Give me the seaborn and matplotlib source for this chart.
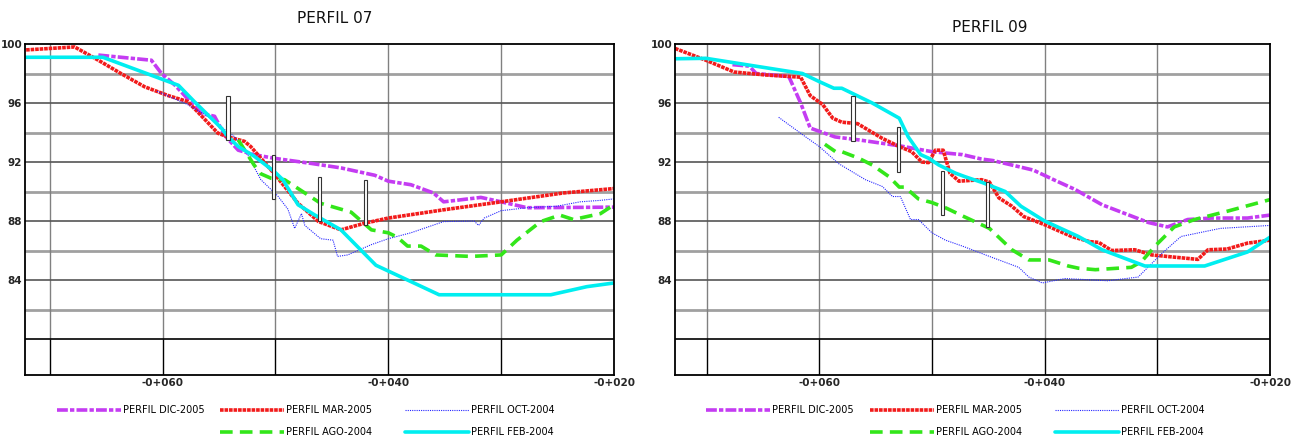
import numpy as np
import pandas as pd
import matplotlib
matplotlib.use('Agg')
import matplotlib.pyplot as plt
import seaborn as sns
from matplotlib.lines import Line2D
from matplotlib.legend import Legend

sns.set_theme(style='white')
plt.rcParams['font.family'] = ['DejaVu Sans']

# ---------------- data ----------------
# PERFIL 07
dic07_x = [-65.7, -61.0, -60.1, -58.9, -57.8, -56.6, -55.4, -54.5, -53.3, -51.9, -50.1, -46.8, -44.2, -41.2,
           -40.0, -38.0, -36.0, -35.1, -31.8, -30.0, -27.7, -20.0]
dic07_y = [99.25, 98.9, 98.0, 97.2, 96.3, 95.3, 95.1, 93.8, 92.8, 92.5, 92.25, 91.9, 91.6, 91.1,
           90.7, 90.46, 89.9, 89.3, 89.6, 89.3, 88.9, 88.94]
mar07_x = [-72.1, -67.8, -65.7, -63.7, -61.6, -59.5, -57.8, -56.9, -55.1, -54.2, -52.75, -52.2, -50.1, -48.0,
           -46.2, -44.2, -42.1, -40.0, -35.1, -30.0, -24.5, -20.0]
mar07_y = [99.6, 99.8, 98.9, 98.0, 97.1, 96.5, 96.1, 95.4, 93.95, 93.7, 93.4, 93.05, 91.2, 89.2,
           87.97, 87.4, 87.85, 88.2, 88.76, 89.3, 89.9, 90.2]
oct07_x = [-60.5, -57.8, -56.0, -54.5, -53.6, -52.4, -51.3, -49.8, -48.9, -48.3, -47.7, -47.4, -46.0, -44.9,
           -44.5, -43.6, -41.5, -40.0, -38.0, -35.1, -32.4, -32.0, -31.5, -30.0, -27.7, -25.1, -23.0, -21.2, -20.0]
oct07_y = [96.8, 95.9, 95.1, 94.2, 93.7, 92.4, 90.8, 89.7, 88.8, 87.5, 88.5, 87.7, 86.8, 86.7,
           85.6, 85.7, 86.4, 86.8, 87.2, 87.96, 88.0, 87.7, 88.2, 88.7, 88.9, 89.0, 89.3, 89.4, 89.5]
ago07_x = [-53.3, -51.9, -51.3, -50.4, -49.2, -48.0, -46.0, -45.1, -43.3, -41.5, -40.0, -39.2, -38.3, -37.1,
           -35.8, -32.7, -30.0, -28.6, -26.5, -24.8, -23.6, -21.2, -20.0]
ago07_y = [93.5, 91.8, 91.2, 90.9, 90.8, 90.2, 89.2, 89.0, 88.6, 87.4, 87.2, 86.9, 86.3, 86.3,
           85.7, 85.6, 85.7, 86.7, 87.96, 88.4, 88.1, 88.5, 89.1]
feb07_x = [-72.1, -65.3, -58.6, -57.2, -54.8, -54.2, -53.3, -51.9, -50.1, -49.35, -48.0, -46.5, -44.2, -41.1,
           -38.3, -35.5, -25.6, -22.4, -20.0]
feb07_y = [99.1, 99.1, 97.2, 96.1, 94.3, 93.7, 93.05, 92.4, 91.35, 90.8, 89.1, 88.4, 87.4, 85.0,
           84.0, 83.0, 83.0, 83.55, 83.8]
bars07_x = [-54.2, -50.2, -46.1, -42.05]
bars07_lo = [93.5, 89.5, 87.97, 87.74]
bars07_hi = [96.5, 92.5, 91.0, 90.75]

# PERFIL 09
dic09_x = [-67.7, -66.2, -65.6, -62.7, -61.65, -60.8, -58.6, -56.5, -52.9, -50.0, -47.3, -45.6, -44.6, -41.0,
           -39.2, -37.3, -34.9, -30.8, -29.1, -27.3, -25.2, -22.0, -20.0]
dic09_y = [98.6, 98.5, 98.0, 97.8, 96.0, 94.3, 93.7, 93.5, 93.1, 92.7, 92.5, 92.2, 92.1, 91.45,
           90.8, 90.14, 89.1, 87.9, 87.6, 88.1, 88.2, 88.2, 88.4]
mar09_x = [-72.8, -70.06, -67.55, -64.75, -62.7, -61.65, -60.8, -59.7, -58.8, -58.0, -56.6, -54.4, -52.9, -51.8,
           -50.9, -50.3, -49.7, -49.0, -48.4, -47.6, -45.6, -44.9, -44.06, -42.9, -41.85, -40.0, -37.6, -36.0,
           -35.2, -34.06, -32.0, -30.5, -28.5, -26.4, -25.5, -23.8, -22.0, -20.0]
mar09_y = [99.7, 98.9, 98.1, 97.9, 97.8, 97.75, 96.5, 95.9, 94.97, 94.7, 94.6, 93.6, 93.05, 92.7,
           92.0, 91.96, 92.8, 92.8, 91.24, 90.7, 90.8, 90.64, 89.57, 89.0, 88.3, 87.75, 86.95, 86.6,
           86.55, 86.0, 86.05, 85.7, 85.55, 85.4, 86.05, 86.1, 86.5, 86.7]
oct09_x = [-63.6, -61.2, -60.0, -58.3, -55.9, -54.4, -53.5, -52.8, -51.9, -51.2, -50.0, -48.8, -47.3, -44.9,
           -42.3, -41.4, -40.2, -38.2, -34.4, -31.7, -29.6, -27.9, -24.4, -20.0]
oct09_y = [95.03, 93.7, 93.05, 91.9, 90.8, 90.34, 89.66, 89.66, 88.1, 88.1, 87.2, 86.7, 86.3, 85.6,
           84.86, 84.2, 83.8, 84.1, 83.95, 84.2, 85.8, 86.95, 87.5, 87.7]
ago09_x = [-59.5, -58.55, -58.0, -56.5, -55.3, -53.8, -52.9, -52.4, -51.2, -50.0, -48.8, -47.3, -44.9, -42.9,
           -41.4, -39.6, -37.9, -37.0, -35.5, -32.3, -31.4, -30.2, -28.5, -26.7, -23.8, -20.0]
ago09_y = [93.2, 92.7, 92.7, 92.26, 91.8, 91.0, 90.3, 90.3, 89.5, 89.25, 88.9, 88.35, 87.5, 86.05,
           85.36, 85.36, 84.95, 84.8, 84.7, 84.86, 85.25, 86.3, 87.6, 88.1, 88.66, 89.45]
feb09_x = [-72.8, -70.06, -61.5, -60.0, -58.7, -58.0, -55.3, -52.9, -52.1, -51.0, -50.3, -49.4, -47.9, -47.05,
           -45.5, -43.5, -42.1, -40.0, -37.0, -34.9, -31.1, -25.8, -22.0, -20.0]
feb09_y = [99.0, 99.03, 98.0, 97.45, 97.0, 97.0, 96.0, 94.97, 93.7, 92.5, 92.26, 91.8, 91.24, 91.0,
           90.6, 90.0, 89.0, 88.0, 86.95, 86.05, 84.95, 84.95, 85.9, 86.9]
bars09_x = [-57.0, -52.95, -49.05, -45.05]
bars09_lo = [93.45, 91.3, 88.4, 87.6]
bars09_hi = [96.5, 94.36, 91.42, 90.67]

labels = ['PERFIL DIC-2005', 'PERFIL MAR-2005', 'PERFIL OCT-2004', 'PERFIL AGO-2004', 'PERFIL FEB-2004']
yticks = [100, 96, 92, 88, 84]
xticks = [-60, -40, -20]
xticklabels = ['-0+060', '-0+040', '-0+020']

styles = {
    'PERFIL DIC-2005': dict(color='#c43cf2', lw=2.6, ls=(0, (3, 0.6, 1.2, 0.6))),
    'PERFIL MAR-2005': dict(color='#f21b1b', lw=2.6, ls=(0, (1, 0.25))),
    'PERFIL OCT-2004': dict(color='#2626ff', lw=0.8, ls=(0, (1, 1))),
    'PERFIL AGO-2004': dict(color='#33e61a', lw=2.6, ls=(0, (3.5, 2))),
    'PERFIL FEB-2004': dict(color='#00eef0', lw=2.6, ls='-'),
}

panels = [
    dict(title='PERFIL 07', xmin=-72.2, title_xy=(0.526, 1.078),
         series=[(dic07_x, dic07_y), (mar07_x, mar07_y), (oct07_x, oct07_y), (ago07_x, ago07_y), (feb07_x, feb07_y)],
         bars=(bars07_x, bars07_lo, bars07_hi), rect=[25 / 1294, 63 / 438, 589 / 1294, 331 / 438],
         leg_x=[57, 220, 405]),
    dict(title='PERFIL 09', xmin=-72.8, title_xy=(0.529, 1.051),
         series=[(dic09_x, dic09_y), (mar09_x, mar09_y), (oct09_x, oct09_y), (ago09_x, ago09_y), (feb09_x, feb09_y)],
         bars=(bars09_x, bars09_lo, bars09_hi), rect=[675 / 1294, 63 / 438, 595 / 1294, 331 / 438],
         leg_x=[706, 870, 1055]),
]

ymin, ymax = 77.56, 100.0

fig = plt.figure(figsize=(12.94, 4.38), dpi=100)
fig.patch.set_facecolor('white')

for p in panels:
    ax = fig.add_axes(p['rect'])
    ax.set_facecolor('white')

    # profile grid
    for yv in [98, 94, 90, 86, 82]:
        ax.axhline(yv, color='#a0a0a0', lw=2.0, zorder=0.5)
    for yv in [96, 92, 88, 84]:
        ax.axhline(yv, color='#555555', lw=1.2, zorder=0.6)
    ax.axhline(80, color='black', lw=1.2, zorder=0.6)
    grid_x = [-70, -60, -50, -40, -30]
    ax.vlines(grid_x, 80, 100, color='#808080', lw=1.0, zorder=0.5)
    ax.vlines(grid_x, ymin, 80, color='black', lw=1.0, zorder=0.6)

    for lab, (xs, ys) in zip(labels, p['series']):
        st = styles[lab]
        df = pd.DataFrame({'x': xs, 'y': ys})
        sns.lineplot(data=df, x='x', y='y', ax=ax, sort=False, estimator=None, legend=False,
                     color=st['color'], lw=st['lw'], linestyle=st['ls'], zorder=2)

    bx, blo, bhi = p['bars']
    ax.bar(bx, np.array(bhi) - np.array(blo), bottom=blo, width=0.3,
           facecolor='white', edgecolor='#333333', lw=0.8, zorder=3)

    ax.set_xlim(p['xmin'], -20)
    ax.set_ylim(ymin, ymax)
    ax.set_xlabel('')
    ax.set_ylabel('')
    ax.set_yticks(yticks)
    ax.set_yticklabels([str(v) for v in yticks], fontsize=7.5, fontweight='bold')
    ax.set_xticks(xticks)
    ax.set_xticklabels(xticklabels, fontsize=7.5, fontweight='bold')
    ax.tick_params(length=0, pad=2)
    for s in ax.spines.values():
        s.set_visible(True)
        s.set_color('black')
        s.set_linewidth(1.3)

    ax.text(p['title_xy'][0], p['title_xy'][1], p['title'], transform=ax.transAxes,
            ha='center', va='center', fontsize=11, color='#111111')

    # legend: three columns below the panel
    handles = {lab: Line2D([], [], color=styles[lab]['color'], lw=styles[lab]['lw'],
                           linestyle=styles[lab]['ls']) for lab in labels}
    cols = [[labels[0]], [labels[1], labels[3]], [labels[2], labels[4]]]
    for cx, col in zip(p['leg_x'], cols):
        leg = Legend(ax, [handles[c] for c in col], col, loc='upper left',
                     bbox_to_anchor=(cx / 1294, 1 - 405 / 438), bbox_transform=fig.transFigure,
                     frameon=False, borderpad=0, borderaxespad=0, handlelength=6.6,
                     handletextpad=0.15, labelspacing=1.25, prop={'size': 7})
        for t in leg.get_texts():
            t.set_color('black')
        ax.add_artist(leg)

fig.savefig('out.png', dpi=100, facecolor='white')
